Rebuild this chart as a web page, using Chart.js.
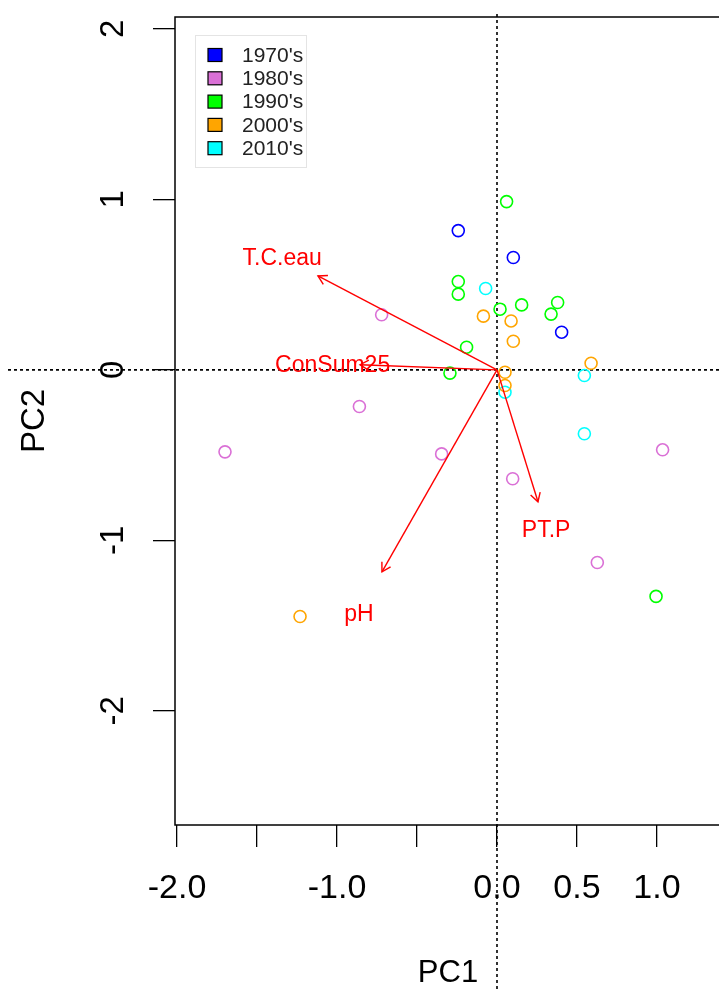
<!DOCTYPE html>
<html>
<head>
<meta charset="utf-8">
<script src="https://cdn.jsdelivr.net/npm/chart.js@4/dist/chart.umd.min.js"></script>
<style>
  html, body { margin: 0; padding: 0; background: #fff; overflow: hidden; }
  #wrap { width: 730px; height: 992px; }
</style>
</head>
<body>
<div id="wrap"><canvas id="c" width="730" height="992"></canvas></div>
<script>
// PCA scores by decade
const decades = ["1970's", "1980's", "1990's", "2000's", "2010's"];
const decadeColors = ['#0000FF', '#DA70D6', '#00FF00', '#FFA500', '#00FFFF'];

const pc1_1970s = [-0.242, 0.102, 0.404];
const pc2_1970s = [0.817, 0.659, 0.221];
const pc1_1980s = [-0.721, -0.860, -1.700, -0.346, 0.098, 1.035, 0.627];
const pc2_1980s = [0.323, -0.215, -0.481, -0.493, -0.639, -0.469, -1.130];
const pc1_1990s = [0.060, -0.242, -0.242, 0.019, 0.154, 0.379, 0.338, -0.190, -0.294, 0.994];
const pc2_1990s = [0.987, 0.518, 0.444, 0.356, 0.381, 0.395, 0.327, 0.133, -0.019, -1.329];
const pc1_2000s = [-0.085, 0.088, 0.102, 0.588, 0.050, 0.050, -1.231];
const pc2_2000s = [0.315, 0.287, 0.168, 0.039, -0.014, -0.092, -1.447];
const pc1_2010s = [-0.071, 0.546, 0.546, 0.050];
const pc2_2010s = [0.477, -0.033, -0.375, -0.131];

// Variable loadings (arrow tips)
const variables = ['T.C.eau', 'ConSum25', 'pH', 'PT.P'];
const loadPC1 = [-1.119, -0.856, -0.719, 0.256];
const loadPC2 = [0.551, 0.030, -1.185, -0.774];

// Axis ticks
const xTickValues = [-2.0, -1.5, -1.0, -0.5, 0.0, 0.5, 1.0];
const xTickLabels = ['-2.0', '', '-1.0', '', '0.0', '0.5', '1.0'];
const yTickValues = [-2, -1, 0, 1, 2];
const yTickLabels = ['-2', '-1', '0', '1', '2'];

const FONT = "'Liberation Sans', Arial, Helvetica, sans-serif";
const ARROW_RED = '#FF0000';
const LABEL_EXPAND = 1.2;

const scoreX = [pc1_1970s, pc1_1980s, pc1_1990s, pc1_2000s, pc1_2010s];
const scoreY = [pc2_1970s, pc2_1980s, pc2_1990s, pc2_2000s, pc2_2010s];

const datasets = [];
decades.forEach((name, i) => {
  datasets.push({
    type: 'scatter',
    label: name,
    data: scoreX[i].map((v, k) => ({ x: v, y: scoreY[i][k] })),
    borderColor: decadeColors[i],
    backgroundColor: 'rgba(0,0,0,0)',
    pointStyle: 'circle',
    pointRadius: 6,
    pointBorderWidth: 1.6,
    order: 2
  });
});
variables.forEach((name, i) => {
  datasets.push({
    type: 'line',
    label: name,
    data: [{ x: 0, y: 0 }, { x: loadPC1[i], y: loadPC2[i] }],
    borderColor: ARROW_RED,
    borderWidth: 1.4,
    pointRadius: 0,
    tension: 0,
    fill: false,
    order: 1
  });
});

const biplotDecor = {
  id: 'biplotDecor',
  beforeDatasetsDraw(chart) {
    const { ctx, scales: { x, y } } = chart;
    const x0 = x.getPixelForValue(0), y0 = y.getPixelForValue(0);
    ctx.save();
    ctx.strokeStyle = '#000';
    ctx.lineWidth = 1.6;
    ctx.setLineDash([3, 3]);
    ctx.beginPath();
    ctx.moveTo(8, y0); ctx.lineTo(chart.width, y0);
    ctx.moveTo(x0, 14); ctx.lineTo(x0, chart.height);
    ctx.stroke();
    ctx.restore();
  },
  afterDatasetsDraw(chart) {
    const { ctx, scales: { x, y } } = chart;
    const ox = x.getPixelForValue(0), oy = y.getPixelForValue(0);
    ctx.save();
    ctx.strokeStyle = ARROW_RED;
    ctx.fillStyle = ARROW_RED;
    ctx.lineWidth = 1.4;
    variables.forEach((name, i) => {
      const tx = x.getPixelForValue(loadPC1[i]);
      const ty = y.getPixelForValue(loadPC2[i]);
      const ang = Math.atan2(ty - oy, tx - ox);
      const len = 10, spread = Math.PI / 6;
      ctx.beginPath();
      ctx.moveTo(tx + len * Math.cos(ang + Math.PI - spread), ty + len * Math.sin(ang + Math.PI - spread));
      ctx.lineTo(tx, ty);
      ctx.lineTo(tx + len * Math.cos(ang + Math.PI + spread), ty + len * Math.sin(ang + Math.PI + spread));
      ctx.stroke();
      ctx.font = '23px ' + FONT;
      ctx.textAlign = 'center';
      ctx.textBaseline = 'middle';
      ctx.fillText(name, x.getPixelForValue(loadPC1[i] * LABEL_EXPAND), y.getPixelForValue(loadPC2[i] * LABEL_EXPAND) + 2);
    });
    ctx.restore();
  },
  afterDraw(chart) {
    const { ctx, chartArea: a, scales: { y } } = chart;
    ctx.save();
    // plot frame
    ctx.strokeStyle = '#000';
    ctx.lineWidth = 1.5;
    ctx.strokeRect(a.left, a.top, a.right - a.left, a.bottom - a.top);
    // rotated y tick labels
    ctx.fillStyle = '#000';
    ctx.font = '33px ' + FONT;
    ctx.textAlign = 'center';
    ctx.textBaseline = 'middle';
    yTickValues.forEach((v, i) => {
      ctx.save();
      ctx.translate(114, y.getPixelForValue(v));
      ctx.rotate(-Math.PI / 2);
      ctx.fillText(yTickLabels[i], 0, 0);
      ctx.restore();
    });
    // legend
    const lx = 195, ly = 35, lw = 111, lh = 132;
    ctx.fillStyle = '#fff';
    ctx.fillRect(lx, ly, lw, lh);
    ctx.strokeStyle = '#e4e4e4';
    ctx.lineWidth = 1;
    ctx.strokeRect(lx + 0.5, ly + 0.5, lw, lh);
    ctx.font = '21px ' + FONT;
    ctx.textAlign = 'left';
    decades.forEach((name, i) => {
      const cy = 55 + i * 23.3;
      ctx.fillStyle = decadeColors[i];
      ctx.fillRect(208, cy - 6.5, 14, 13);
      ctx.strokeStyle = '#000';
      ctx.lineWidth = 1.2;
      ctx.strokeRect(208, cy - 6.5, 14, 13);
      ctx.fillStyle = '#222';
      ctx.fillText(name, 242, cy + 1);
    });
    ctx.restore();
  }
};

new Chart(document.getElementById('c'), {
  type: 'scatter',
  data: { datasets },
  options: {
    responsive: false,
    animation: false,
    layout: { padding: { top: 17, right: 9, bottom: 0, left: 0 } },
    plugins: { legend: { display: false }, tooltip: { enabled: false } },
    scales: {
      x: {
        type: 'linear',
        min: -2.0125,
        max: 1.4,
        afterBuildTicks(s) { s.ticks = xTickValues.map(v => ({ value: v })); },
        afterFit(s) { s.height = 167; },
        grid: { drawOnChartArea: false, drawTicks: true, tickLength: 22, color: '#000', lineWidth: 1.3 },
        border: { display: false },
        ticks: {
          autoSkip: false,
          maxRotation: 0,
          padding: 21,
          color: '#000',
          font: { size: 34, family: FONT },
          callback: (v) => xTickLabels[xTickValues.indexOf(v)]
        },
        title: { display: true, text: 'PC1', color: '#000', font: { size: 31, family: FONT }, padding: { top: 0, bottom: 0 } }
      },
      y: {
        type: 'linear',
        min: -2.67,
        max: 2.07,
        afterBuildTicks(s) { s.ticks = yTickValues.map(v => ({ value: v })); },
        afterFit(s) { s.width = 175; },
        grid: { drawOnChartArea: false, drawTicks: true, tickLength: 22, color: '#000', lineWidth: 1.3 },
        border: { display: false },
        ticks: { display: false },
        title: { display: true, text: 'PC2', color: '#000', font: { size: 33, family: FONT }, padding: { top: 15, bottom: 0 } }
      }
    }
  },
  plugins: [biplotDecor]
});
</script>
</body>
</html>
